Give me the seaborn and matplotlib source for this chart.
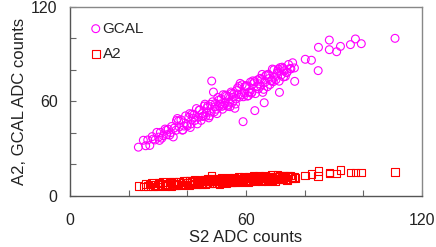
import matplotlib
matplotlib.use("Agg")
import matplotlib.pyplot as plt
import seaborn as sns
import pandas as pd

# S2 ADC counts (x), GCAL ADC counts, A2 ADC counts
s2 = [23.3, 25.0, 25.8, 26.5, 27.2, 28.0, 28.3, 29.0, 29.6, 30.2, 30.8, 31.3, 31.8, 32.4,
      33.0, 33.5, 34.0, 34.6, 35.2, 35.5, 36.1, 36.6, 37.2, 37.8, 38.3, 38.9, 39.4, 40.0,
      40.5, 41.0, 41.6, 42.1, 42.6, 43.1, 43.7, 44.2, 44.7, 45.2, 45.8, 46.3, 46.8, 47.3,
      47.9, 48.3, 48.9, 49.4, 49.9, 50.4, 51.0, 51.5, 52.0, 52.5, 53.0, 53.6, 54.1, 54.6,
      55.1, 55.7, 56.2, 56.6, 57.1, 57.6, 58.0, 58.4, 59.0, 59.1, 59.7, 60.2, 60.8, 61.3,
      61.8, 62.3, 62.9, 63.0, 63.7, 64.2, 64.8, 65.3, 65.7, 66.0, 66.2, 66.7, 67.0, 67.3,
      67.9, 68.5, 69.0, 69.3, 69.8, 70.5, 71.0, 71.4, 71.6, 72.0, 72.7, 72.8, 73.4, 74.0,
      75.0, 75.9, 76.5, 76.6, 80.2, 82.3, 84.6, 84.7, 88.4, 88.4, 90.9, 92.2, 95.6, 97.3,
      99.3, 110.8,
      40.8, 41.3, 42.3, 43.4, 44.0, 45.0, 45.5, 46.0, 46.6, 47.0, 47.6, 48.1, 48.6, 49.2,
      49.6, 50.1, 50.7, 51.2, 51.8, 52.2, 52.8, 53.3, 53.8, 54.4, 54.9, 55.4, 55.9, 56.4,
      56.9, 57.4, 57.8, 58.7, 59.4, 59.9, 60.5, 61.0, 61.5, 62.0, 62.6, 63.2, 63.9, 64.5,
      65.0, 65.5, 66.4, 67.6, 68.2, 68.8, 69.5, 70.2, 70.8, 71.3, 72.3, 73.0, 73.8, 74.5,
      75.3, 37.0, 38.5, 39.8, 36.3, 34.3, 32.8, 30.5]

gcal = [31.0, 35.4, 31.9, 35.6, 32.1, 37.7, 36.1, 35.6, 40.4, 37.4, 40.4, 36.7, 38.3, 42.5,
        38.9, 42.4, 38.7, 44.1, 37.5, 43.1, 41.7, 49.2, 43.8, 48.4, 41.8, 44.4, 50.9, 44.5,
        50.0, 43.5, 52.0, 49.5, 48.0, 55.5, 50.1, 54.6, 48.0, 50.5, 57.1, 50.6, 56.1, 49.6,
        58.2, 73.0, 66.0, 56.6, 55.1, 62.6, 57.2, 61.6, 55.1, 57.6, 64.1, 57.7, 63.2, 56.7,
        65.1, 62.7, 55.7, 61.6, 68.6, 69.6, 71.5, 64.3, 47.2, 63.0, 69.4, 70.1, 63.7, 66.2,
        65.2, 73.1, 72.6, 54.2, 69.4, 68.0, 74.7, 74.0, 65.8, 67.7, 59.2, 76.4, 76.8, 69.4,
        74.6, 73.1, 80.6, 72.6, 75.4, 77.9, 80.6, 65.8, 81.5, 76.8, 81.0, 75.6, 75.9, 78.5,
        81.0, 84.6, 81.3, 72.8, 86.8, 86.2, 79.6, 94.4, 99.0, 92.9, 91.6, 95.0, 96.1, 99.7,
        96.7, 100.1,
        52.3, 45.8, 51.7, 45.8, 54.4, 52.3, 50.8, 58.3, 52.9, 57.3, 50.9, 53.3, 59.8, 53.4,
        58.8, 52.3, 60.9, 58.4, 56.9, 64.3, 58.9, 63.4, 56.9, 59.5, 66.0, 59.4, 64.9, 58.4,
        66.9, 64.4, 62.8, 70.6, 65.3, 69.8, 63.4, 65.9, 72.3, 65.8, 71.4, 65.0, 73.7, 71.2,
        69.7, 77.2, 72.1, 77.3, 70.8, 73.4, 80.1, 73.8, 79.4, 72.9, 81.8, 79.5, 78.3, 83.5,
        80.7, 47.6, 42.0, 45.3, 47.9, 40.2, 41.7, 35.3]

a2 = [6.5, 6.1, 7.8, 6.2, 7.4, 8.4, 6.1, 7.1, 6.0, 8.3, 7.9, 6.9, 9.0, 6.4,
      7.8, 7.4, 8.5, 6.4, 9.0, 7.1, 8.0, 7.3, 8.9, 6.8, 8.5, 9.5, 7.2, 8.2,
      6.8, 9.4, 9.0, 8.0, 10.1, 7.5, 8.9, 8.4, 9.6, 7.4, 10.1, 8.1, 9.1, 8.3,
      10.0, 13.0, 9.6, 10.5, 8.3, 9.2, 7.8, 10.5, 10.0, 9.1, 11.1, 8.6, 9.9, 9.5,
      10.6, 8.5, 11.1, 9.2, 10.1, 9.4, 11.0, 8.8, 10.6, 11.5, 9.3, 10.2, 8.8, 11.4,
      11.0, 10.0, 12.1, 9.5, 10.9, 10.4, 11.6, 9.4, 12.1, 10.1, 11.0, 10.3, 11.9, 9.7,
      11.5, 12.4, 10.2, 11.1, 9.7, 12.4, 11.9, 10.9, 13.0, 10.4, 11.8, 11.3, 12.4, 10.3,
      13.0, 11.1, 12.1, 11.3, 12.9, 14.0, 12.7, 15.9, 14.8, 14.3, 14.4, 16.5, 14.8, 15.0,
      15.0, 15.4,
      9.5, 7.4, 9.3, 7.2, 9.9, 8.0, 10.4, 7.6, 9.5, 10.8, 8.1, 9.4, 11.2, 8.0,
      9.8, 10.9, 8.4, 9.9, 11.4, 8.7, 10.3, 8.2, 10.9, 11.7, 9.0, 10.2, 11.6, 8.9,
      10.6, 12.0, 9.5, 10.9, 12.2, 9.1, 11.3, 12.5, 9.6, 11.1, 12.6, 9.8, 11.5, 12.8,
      10.0, 11.8, 12.9, 10.5, 12.1, 13.2, 10.6, 12.3, 13.4, 11.0, 12.6, 13.1, 10.8, 12.9,
      12.2, 9.2, 7.3, 9.6, 6.9, 8.9, 6.6, 8.6]

series_names = ["GCAL", "A2"]
x_ticks = [0, 20, 40, 60, 80, 100, 120]
x_labels = ["0", "", "", "60", "", "", "120"]
y_ticks = [0, 20, 40, 60, 80, 100, 120]
y_labels = ["0", "", "", "60", "", "", "120"]

df = pd.DataFrame({"s2": s2, "gcal": gcal, "a2": a2})

sns.set_theme(style="white")
plt.rcParams["font.family"] = ["Liberation Sans", "DejaVu Sans"]

fig = plt.figure(figsize=(4.36, 2.47), dpi=100)
ax = fig.add_axes([0.1606, 0.2065, 0.8073, 0.7652])

sns.scatterplot(data=df, x="s2", y="gcal", ax=ax, marker="o", s=32,
                facecolors="none", edgecolor="#FF00FF", linewidth=0.8,
                label=series_names[0])
sns.scatterplot(data=df, x="s2", y="a2", ax=ax, marker="s", s=30,
                facecolors="none", edgecolor="#FF0000", linewidth=0.8,
                label=series_names[1])

ax.set_xlim(0, 120)
ax.set_ylim(0, 120)
ax.set_xticks(x_ticks)
ax.set_xticklabels(x_labels)
ax.set_yticks(y_ticks)
ax.set_yticklabels(y_labels)
ax.tick_params(axis="both", direction="in", length=4, width=0.8, color="#666666",
               labelsize=11.5, labelcolor="#222222", bottom=True, left=True,
               top=False, right=False)
ax.tick_params(axis="x", pad=12)
ax.tick_params(axis="y", pad=9)

for side in ["left", "bottom"]:
    ax.spines[side].set_color("#555555")
    ax.spines[side].set_linewidth(1.0)
for side in ["top", "right"]:
    ax.spines[side].set_color("#888888")
    ax.spines[side].set_linewidth(1.0)

ax.set_xlabel("S2 ADC counts", fontsize=12, color="#222222", labelpad=2)
ax.set_ylabel("A2, GCAL ADC counts", fontsize=12, color="#222222", labelpad=3)

leg = ax.legend(loc="upper left", frameon=False, fontsize=11, handletextpad=0.15,
                borderaxespad=0.5, labelspacing=0.75, handlelength=0.6,
                bbox_to_anchor=(0.021, 0.995))

fig.savefig("out.png", dpi=100)
